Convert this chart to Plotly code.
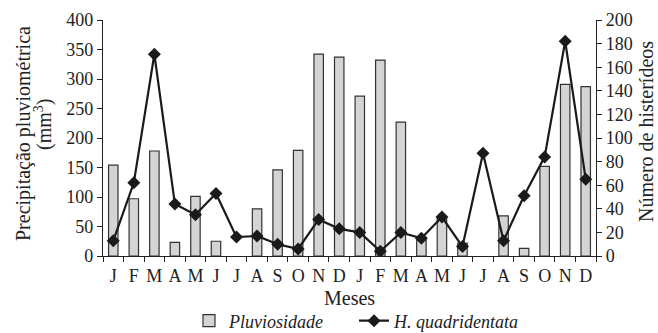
import plotly.graph_objects as go

months = ["J","F","M","A","M","J","J","A","S","O","N","D",
          "J","F","M","A","M","J","J","A","S","O","N","D"]
rain = [154, 97, 178, 23, 101, 25, 0, 80, 146, 179, 342, 337,
        271, 332, 227, 27, 63, 22, 0, 68, 13, 152, 291, 287]
beetles = [13, 62, 171, 44, 35, 53, 16, 17, 10, 6, 31, 23,
           20, 4, 20, 15, 33, 8, 87, 13, 51, 84, 182, 65]

x = list(range(len(months)))
font_family = "Liberation Serif"
ink = "#222222"

fig = go.Figure()
fig.add_trace(go.Bar(
    x=x, y=rain, name="<i>Pluviosidade</i>", width=0.46,
    marker=dict(color="#d4d4d4",
                line=dict(color="#333333",
                          width=[1.2 if v > 0 else 0 for v in rain])),
    yaxis="y"))
fig.add_trace(go.Scatter(
    x=x, y=beetles, name="<i>H. quadridentata</i>", mode="lines+markers",
    line=dict(color="#1a1a1a", width=2.2),
    marker=dict(symbol="diamond", size=10, color="#1a1a1a"),
    yaxis="y2"))

L, R, T, B = 103, 62, 20, 77
W, H = 658, 333
pw, ph = W - L - R, H - T - B

def px_x(p):
    return (p - L) / pw

def px_y(p):
    return (H - B - p) / ph

title_font = dict(size=20)

fig.update_layout(
    width=W, height=H,
    margin=dict(l=L, r=R, t=T, b=B, autoexpand=False),
    paper_bgcolor="white", plot_bgcolor="white",
    font=dict(family=font_family, size=18, color=ink),
    showlegend=True,
    legend=dict(orientation="h", x=(192 - 3) / W, xanchor="left", xref="container",
                y=(H - 321) / H, yanchor="middle", yref="container",
                font=dict(size=18), traceorder="normal",
                entrywidth=120, entrywidthmode="pixels"),
    xaxis=dict(
        range=[-0.5, 23.5], tickvals=x, ticktext=months, ticks="",
        showline=True, linecolor=ink, linewidth=1.2,
        showgrid=False, zeroline=False,
        tickfont=dict(size=18), ticklabelstandoff=3,
        minor=dict(tickmode="linear", tick0=-0.5, dtick=1, ticks="outside",
                   ticklen=5, tickcolor=ink, tickwidth=1.2, showgrid=False),
    ),
    yaxis=dict(
        range=[0, 400], dtick=50, ticks="outside", ticklen=5,
        tickcolor=ink, tickwidth=1.2,
        showline=True, linecolor=ink, linewidth=1.2,
        showgrid=False, zeroline=False, tickfont=dict(size=18),
    ),
    yaxis2=dict(
        range=[0, 200], dtick=20, overlaying="y", side="right",
        ticks="outside", ticklen=5, tickcolor=ink, tickwidth=1.2,
        showline=True, linecolor=ink, linewidth=1.2,
        showgrid=False, zeroline=False, tickfont=dict(size=18),
    ),
    annotations=[
        dict(text="Precipitação pluviométrica", textangle=-90,
             xref="paper", yref="paper", x=px_x(23), y=px_y(134),
             xanchor="center", yanchor="middle", showarrow=False,
             font=title_font),
        dict(text="(mm<sup>3</sup>)", textangle=-90,
             xref="paper", yref="paper", x=px_x(43), y=px_y(125),
             xanchor="center", yanchor="middle", showarrow=False,
             font=title_font),
        dict(text="Número de histerídeos", textangle=-90,
             xref="paper", yref="paper", x=px_x(646), y=px_y(132),
             xanchor="center", yanchor="middle", showarrow=False,
             font=title_font),
        dict(text="Meses", xref="paper", yref="paper", x=0.5, y=px_y(298),
             xanchor="center", yanchor="middle", showarrow=False,
             font=title_font),
    ],
)

fig.write_html(
    "out.html",
    config={"displayModeBar": False},
    post_script="document.body.style.margin='0';document.body.style.overflow='hidden';",
)
